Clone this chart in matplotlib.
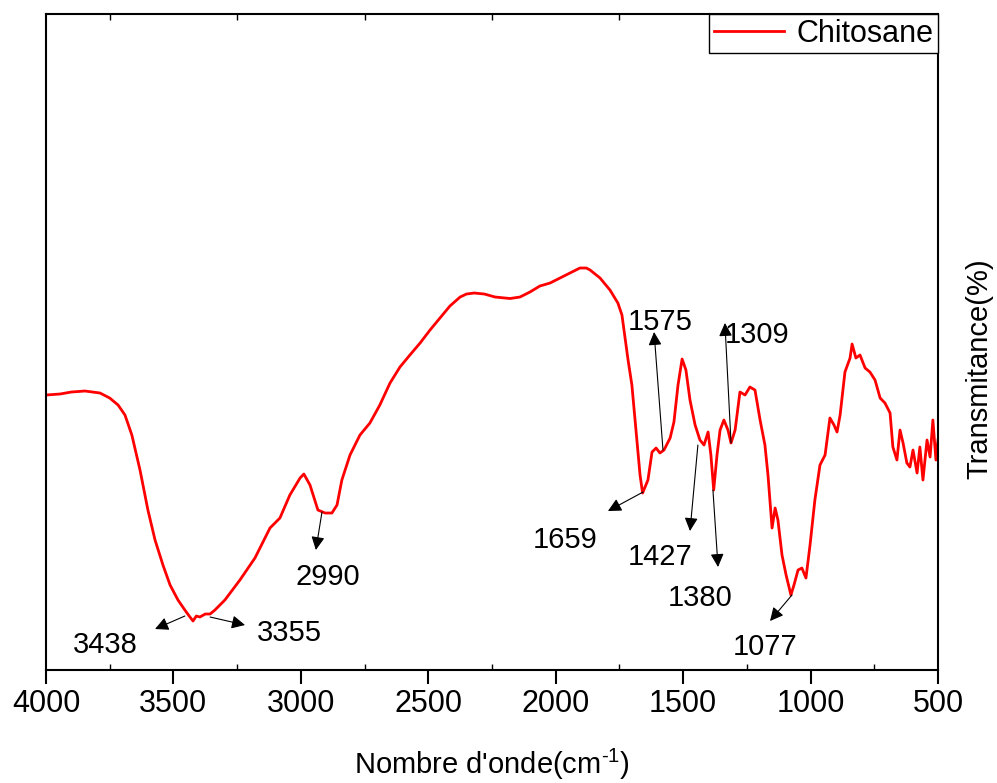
import numpy as np
import matplotlib
matplotlib.use("Agg")
import matplotlib.pyplot as plt

plt.rcParams['font.family'] = ['Liberation Sans', 'DejaVu Sans']
plt.rcParams['mathtext.fontset'] = 'custom'
plt.rcParams['mathtext.rm'] = 'Liberation Sans'
plt.rcParams['mathtext.it'] = 'Liberation Sans'

# wavenumber (cm-1) and transmittance
wavenumber = [4000, 3945, 3900, 3847, 3788, 3750, 3717, 3690, 3663, 3631, 3600, 3572, 3541, 3513,
              3482, 3455, 3438, 3423, 3410, 3396, 3375, 3356, 3337, 3298, 3239, 3180, 3121, 3082,
              3043, 3003, 2988, 2964, 2933, 2905, 2878, 2858, 2839, 2807, 2768, 2729, 2690, 2650,
              2611, 2572, 2532, 2493, 2454, 2415, 2375, 2350, 2320, 2280, 2238, 2200, 2179, 2140,
              2101, 2062, 2022, 1983, 1944, 1905, 1880, 1865, 1826, 1787, 1756, 1740, 1732, 1716,
              1701, 1685, 1669, 1659, 1638, 1622, 1606, 1591, 1575, 1551, 1536, 1520, 1504, 1489,
              1473, 1453, 1434, 1418, 1402, 1391, 1380, 1367, 1355, 1340, 1324, 1312, 1296, 1277,
              1257, 1238, 1218, 1198, 1179, 1167, 1151, 1139, 1128, 1112, 1096, 1077, 1065, 1049,
              1034, 1018, 1002, 983, 963, 943, 924, 908, 896, 884, 865, 845, 837, 822, 806, 786,
              767, 747, 727, 708, 688, 677, 661, 649, 637, 622, 610, 598, 582, 571, 559, 543, 531,
              520, 508, 500]
transmittance = [27.5, 27.6, 27.8, 27.9, 27.7, 27.2, 26.5, 25.5, 23.5, 20.0, 16.0, 13.0, 10.5, 8.5,
                 7.0, 6.0, 5.4, 4.9, 5.4, 5.3, 5.6, 5.6, 6.0, 7.0, 9.0, 11.2, 14.2, 15.2,
                 17.5, 19.2, 19.6, 18.5, 16.0, 15.7, 15.7, 16.5, 19.0, 21.5, 23.5, 24.7, 26.5, 28.7,
                 30.3, 31.5, 32.7, 34.0, 35.2, 36.4, 37.3, 37.6, 37.7, 37.6, 37.3, 37.2, 37.15, 37.3,
                 37.8, 38.4, 38.7, 39.2, 39.7, 40.2, 40.2, 40.0, 39.2, 38.0, 36.7, 35.5, 34.0, 31.0,
                 28.5, 24.0, 19.5, 17.7, 19.0, 21.8, 22.2, 21.7, 22.0, 23.2, 24.8, 28.5, 31.1, 30.0,
                 27.0, 24.5, 23.0, 22.5, 23.8, 21.5, 18.0, 21.5, 24.0, 25.0, 24.0, 22.7, 24.0, 27.8,
                 27.5, 28.3, 28.0, 25.0, 22.5, 19.5, 14.2, 16.2, 15.0, 11.5, 9.5, 7.5, 8.5, 10.0,
                 10.2, 9.2, 12.5, 17.0, 20.5, 21.5, 25.2, 24.5, 23.8, 25.5, 29.8, 31.2, 32.6, 31.2, 31.5, 30.2,
                 29.8, 29.0, 27.2, 26.7, 25.7, 22.3, 21.0, 24.0, 22.7, 20.7, 20.3, 22.0, 19.7, 22.3, 19.0, 23.0, 21.3,
                 25.0, 21.0, 23.0]

# peak labels: text, curve point, arrow head, label position
peak_labels = ["3438", "3355", "2990", "1659", "1575", "1427", "1380", "1309", "1077"]
arrow_tail = [(3455, 5.4), (3356, 5.3), (2917, 15.8), (1657, 17.8), (1579, 22.0),
              (1442, 22.5), (1383, 18.0), (1312, 22.7), (1073, 7.5)]
arrow_head = [(3572, 4.1), (3219, 4.5), (2941, 12.0), (1795, 15.9), (1614, 33.8),
              (1473, 13.9), (1363, 10.3), (1336, 34.7), (1159, 4.9)]
label_pos = [(3768, 2.5), (3043, 3.7), (2893, 9.3), (1963, 13.0), (1591, 34.8),
             (1591, 11.3), (1434, 7.2), (1210, 33.5), (1179, 2.3)]

fig = plt.figure(figsize=(9.97, 7.83), dpi=100)
ax = fig.add_axes([0.0461, 0.1443, 0.8947, 0.8378])

ax.plot(wavenumber, transmittance, color='red', lw=2.0, label='Chitosane')

for lab, tail, head, pos in zip(peak_labels, arrow_tail, arrow_head, label_pos):
    ax.annotate('', xy=head, xytext=tail,
                arrowprops=dict(arrowstyle='-|>', color='black', lw=0.8,
                                mutation_scale=20, shrinkA=0, shrinkB=0))
    ax.text(pos[0], pos[1], lab, fontsize=21, ha='center', va='center')

ax.set_xlim(4000, 500)
ax.set_ylim(0, 65.6)
ax.set_xticks([4000, 3500, 3000, 2500, 2000, 1500, 1000, 500])
ax.set_xticks(np.arange(750, 4000, 500), minor=True)
ax.set_yticks([])
ax.tick_params(axis='x', which='major', labelsize=22, length=10, width=1.5, direction='out')
ax.tick_params(axis='x', which='minor', length=4, width=1, direction='in', top=True)
for sp in ax.spines.values():
    sp.set_linewidth(1.5)

ax.set_xlabel(r"Nombre d'onde(cm$^{\text{-1}}$)", fontsize=21, labelpad=20)
ax.yaxis.set_label_position('right')
ax.set_ylabel('Transmitance(%)', fontsize=21, labelpad=20, y=0.46)

leg = ax.legend(loc='upper right', fontsize=22, borderaxespad=0, fancybox=False,
                edgecolor='black', framealpha=1, handlelength=2.3, borderpad=0.15,
                handletextpad=0.4)
leg.get_frame().set_linewidth(1.0)

fig.savefig('out.png', dpi=100)
